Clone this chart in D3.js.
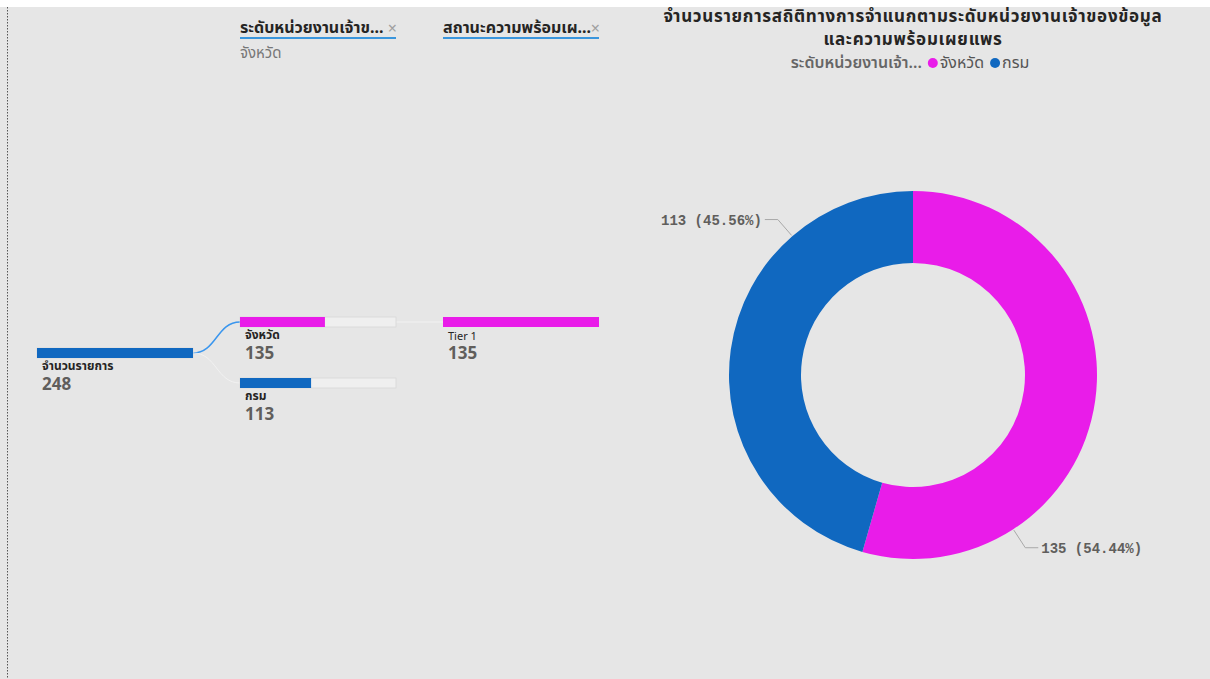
<!DOCTYPE html>
<html>
<head>
<meta charset="utf-8">
<script src="https://cdn.jsdelivr.net/npm/d3@7"></script>
<style>
  html, body { margin: 0; padding: 0; background: #ffffff; }
  svg { display: block; }
  text { font-family: "Noto Sans", "Noto Sans Thai", "DejaVu Sans", sans-serif; }
</style>
</head>
<body>
<svg id="chart" width="1210" height="679"></svg>
<script>
// Owner level of the statistics records
const ownerLevels = ["จังหวัด", "กรม"];
const ownerCounts = [135, 113];
const levelColors = ["#E91CE9", "#1068C0"];

// Decomposition tree
const rootLabel = "จำนวนรายการ";
const readinessLabels = ["Tier 1"];
const readinessCounts = [135];
const treeHeaderShort = ["ระดับหน่วยงานเจ้าข...", "สถานะความพร้อมเผ..."];

const titleLines = ["จำนวนรายการสถิติทางการจำแนกตามระดับหน่วยงานเจ้าของข้อมูล", "และความพร้อมเผยแพร"];
const legendTitle = "ระดับหน่วยงานเจ้า...";

const W = 1210, H = 679;
const svg = d3.select("#chart");

// canvas
svg.append("rect").attr("x", 0).attr("y", 0).attr("width", W).attr("height", H).attr("fill", "#ffffff");
svg.append("rect").attr("x", 0).attr("y", 7).attr("width", W).attr("height", H - 7).attr("fill", "#e6e6e6");
svg.append("line").attr("x1", 7.5).attr("x2", 7.5).attr("y1", 7).attr("y2", H)
  .attr("stroke", "#555").attr("stroke-width", 1).attr("stroke-dasharray", "1.5,1.5");

// ---------- Decomposition tree ----------
const total = d3.sum(ownerCounts);
const barW = 156, barH = 10;
const colX = [37, 240, 443];

const tree = svg.append("g");

// column headers
treeHeaderShort.forEach((h, i) => {
  const x = colX[i + 1];
  tree.append("text").attr("x", x).attr("y", 33).attr("font-size", 16).attr("font-weight", 700)
    .attr("fill", "#252423").text(h);
  tree.append("text").attr("x", x + barW + 1).attr("y", 34).attr("font-size", 16)
    .attr("text-anchor", "end").attr("fill", "#a0a0a0").text("×");
  tree.append("rect").attr("x", x).attr("y", 37).attr("width", barW).attr("height", 2).attr("fill", "#3a96dd");
});
tree.append("text").attr("x", colX[1]).attr("y", 58).attr("font-size", 15).attr("fill", "#777")
  .text(ownerLevels[0]);

const rootY = 348;
const lvl1Y = [317, 378];
const lvl2Y = [317];

// connectors
const link = d3.linkHorizontal().x(d => d[0]).y(d => d[1]);
ownerLevels.forEach((lv, i) => {
  tree.append("path")
    .attr("d", link({ source: [colX[0] + barW, rootY + barH / 2], target: [colX[1], lvl1Y[i] + barH / 2] }))
    .attr("fill", "none")
    .attr("stroke", i === 0 ? "#3a96ee" : "#f2f2f2")
    .attr("stroke-width", i === 0 ? 1.5 : 1);
});
readinessLabels.forEach((r, j) => {
  tree.append("line").attr("x1", colX[1] + barW).attr("x2", colX[2])
    .attr("y1", lvl1Y[0] + barH / 2).attr("y2", lvl2Y[j] + barH / 2)
    .attr("stroke", "#f2f2f2").attr("stroke-width", 1);
});

function node(x, y, value, maxVal, color, label) {
  const s = d3.scaleLinear().domain([0, maxVal]).range([0, barW]);
  tree.append("rect").attr("x", x).attr("y", y).attr("width", barW).attr("height", barH)
    .attr("fill", "#efefef").attr("stroke", "#d8d8d8").attr("stroke-width", 0.8);
  tree.append("rect").attr("x", x).attr("y", y).attr("width", s(value)).attr("height", barH)
    .attr("fill", color);
  tree.append("text").attr("x", x + 5).attr("y", y + 22).attr("font-size", 12)
    .attr("font-weight", 700).attr("fill", "#252423").text(label);
  tree.append("text").attr("x", x + 5).attr("y", y + 42).attr("font-size", 17)
    .attr("font-weight", 700).attr("fill", "#605e5c").text(value);
}

node(colX[0], rootY, total, total, levelColors[1], rootLabel);
ownerLevels.forEach((lv, i) => node(colX[1], lvl1Y[i], ownerCounts[i], total, levelColors[i], lv));
readinessLabels.forEach((r, j) => {
  const s = d3.scaleLinear().domain([0, ownerCounts[0]]).range([0, barW]);
  tree.append("rect").attr("x", colX[2]).attr("y", lvl2Y[j]).attr("width", s(readinessCounts[j])).attr("height", barH)
    .attr("fill", levelColors[0]);
  tree.append("text").attr("x", colX[2] + 5).attr("y", lvl2Y[j] + 23).attr("font-size", 11)
    .attr("fill", "#252423").text(r);
  tree.append("text").attr("x", colX[2] + 5).attr("y", lvl2Y[j] + 42).attr("font-size", 17)
    .attr("font-weight", 700).attr("fill", "#605e5c").text(readinessCounts[j]);
});

// ---------- Donut ----------
const cx = 913, cy = 375, rOuter = 184, rInner = 112;
const pie = d3.pie().sort(null).value(d => d.v);
const arcs = pie(ownerLevels.map((k, i) => ({ k, v: ownerCounts[i], c: levelColors[i] })));
const arc = d3.arc().innerRadius(rInner).outerRadius(rOuter);

const donut = svg.append("g").attr("transform", `translate(${cx},${cy})`);
donut.selectAll("path.slice").data(arcs).join("path").attr("class", "slice")
  .attr("d", arc).attr("fill", d => d.data.c);

// data labels with leader lines, anchored three quarters of the way through each slice
const fmtPct = d3.format(".2f");
arcs.forEach((d) => {
  const a = d.startAngle + (d.endAngle - d.startAngle) * 0.75;
  const p0 = [Math.sin(a) * (rOuter + 1), -Math.cos(a) * (rOuter + 1)];
  const p1 = [Math.sin(a) * (rOuter + 22), -Math.cos(a) * (rOuter + 22)];
  const right = Math.sin(a) > 0;
  const p2 = [p1[0] + (right ? 13 : -13), p1[1]];
  donut.append("polyline")
    .attr("points", [p0, p1, p2].map(p => p.join(",")).join(" "))
    .attr("fill", "none").attr("stroke", "#a8a8a8").attr("stroke-width", 1);
  const pct = d.data.v / total * 100;
  donut.append("text")
    .attr("x", p2[0] + (right ? 3 : -3)).attr("y", p2[1] + 5)
    .attr("text-anchor", right ? "start" : "end")
    .style("font-family", "'Liberation Mono', 'DejaVu Sans Mono', monospace")
    .attr("font-size", 14).attr("font-weight", 700).attr("fill", "#605e5c")
    .text(`${d.data.v} (${fmtPct(pct)}%)`);
});

// title: one text block, two lines
const title = svg.append("text").attr("text-anchor", "middle")
  .attr("font-size", 17).attr("letter-spacing", 0.7)
  .attr("font-weight", 700).attr("fill", "#252423");
titleLines.forEach((t, i) => {
  title.append("tspan").attr("x", cx).attr("y", 22 + i * 23).text(t);
});

// legend
const lg = svg.append("g");
const legendItems = [{ t: legendTitle, dot: null }].concat(ownerLevels.map((k, i) => ({ t: k, dot: levelColors[i] })));
let lx = 0;
legendItems.forEach((it, i) => {
  if (it.dot) {
    lg.append("circle").attr("cx", lx + 5).attr("cy", -5).attr("r", 5).attr("fill", it.dot);
    lx += 12;
  }
  const t = lg.append("text").attr("x", lx).attr("y", 0).attr("font-size", 16)
    .attr("font-weight", i === 0 ? 600 : 400)
    .attr("fill", i === 0 ? "#666" : "#555").text(it.t);
  lx += t.node().getComputedTextLength() + 6;
});
lg.attr("transform", `translate(${cx - lx / 2},68)`);
</script>
</body>
</html>
